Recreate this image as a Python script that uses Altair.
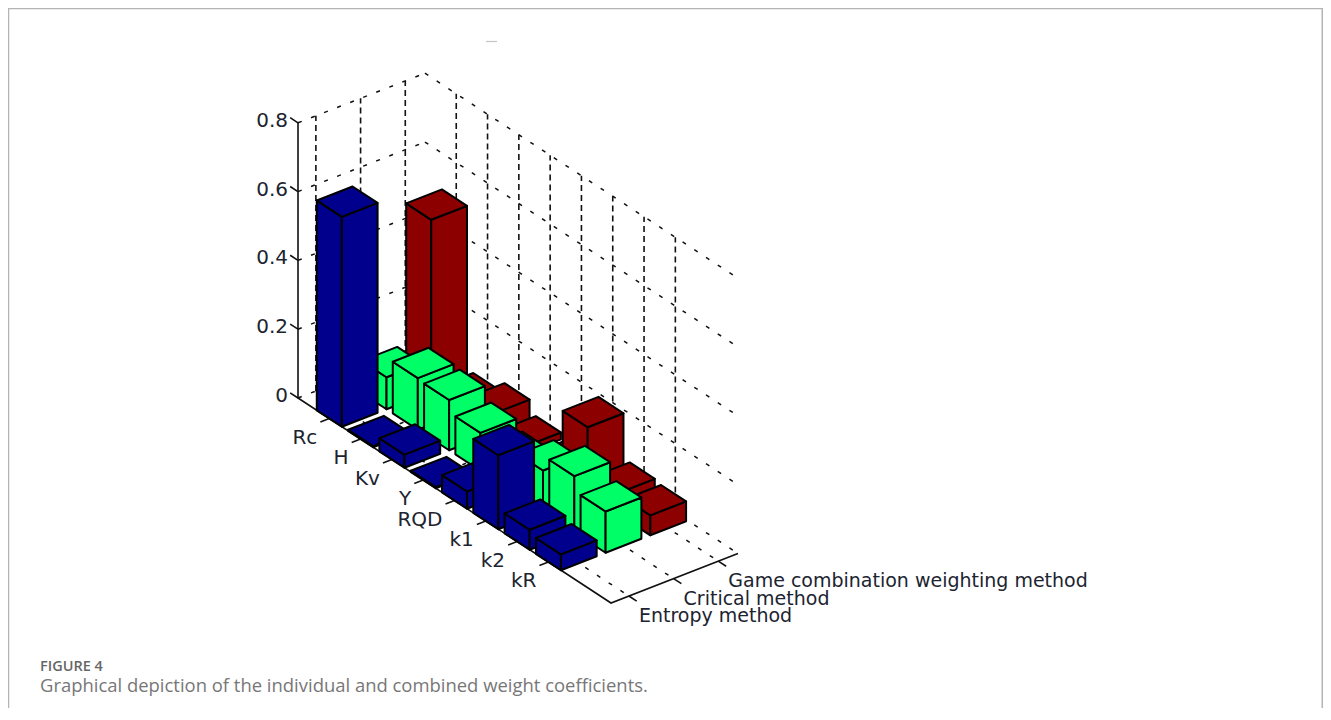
import altair as alt
import pandas as pd

categories = ["Rc", "H", "Kv", "Y", "RQD", "k1", "k2", "kR"]
methods = ["Entropy method", "Critical method", "Game combination weighting method"]
entropy = [0.61, 0.003, 0.038, 0.003, 0.05, 0.215, 0.058, 0.046]
critical = [0.093, 0.15, 0.146, 0.11, 0.085, 0.12, 0.163, 0.12]
game = [0.50, 0.026, 0.056, 0.02, 0.01, 0.195, 0.064, 0.058]
z_ticks = [0, 0.2, 0.4, 0.6, 0.8]
z_labels = ["0", "0.2", "0.4", "0.6", "0.8"]
series = [entropy, critical, game]
colors = ["#00008c", "#00ff66", "#8c0000"]

W, H = 1315, 700
XMIN, XMAX, YMIN, YMAX, ZMAX = 0.0, 10.0, 0.6, 3.44, 0.8
BAR = 0.4


def P(x, y, z=0.0):
    """Oblique 3D view -> pixel position inside the svg."""
    return [
        298 + (x - XMIN) * 31.3 + (y - YMIN) * 44.7 - 8,
        398 + (x - XMIN) * 20.5 - (y - YMIN) * 17.45 - z * 344 - 8,
    ]


def poly(points, color):
    return {
        "type": "Feature",
        "properties": {"color": color},
        "geometry": {"type": "Polygon", "coordinates": [points + [points[0]]]},
    }


def line(*points):
    return {
        "type": "Feature",
        "properties": {},
        "geometry": {"type": "LineString", "coordinates": list(points)},
    }


# bars, back to front
faces = []
for yi in (3, 2, 1):
    vals = series[yi - 1]
    col = colors[yi - 1]
    for xi, h in enumerate(vals, start=1):
        x0, x1 = xi - BAR, xi + BAR
        y0, y1 = yi - BAR, yi + BAR
        faces.append(poly([P(x0, y0), P(x1, y0), P(x1, y0, h), P(x0, y0, h)], col))
        faces.append(poly([P(x1, y0), P(x1, y1), P(x1, y1, h), P(x1, y0, h)], col))
        faces.append(poly([P(x0, y0, h), P(x1, y0, h), P(x1, y1, h), P(x0, y1, h)], col))

# grid
sloped = []
for z in z_ticks:
    sloped.append(line(P(XMIN, YMIN, z), P(XMIN, YMAX, z)))
    sloped.append(line(P(XMIN, YMAX, z), P(XMAX, YMAX, z)))
for i in range(1, len(categories) + 1):
    sloped.append(line(P(i, YMIN), P(i, YMAX)))
for j in range(1, len(methods) + 1):
    sloped.append(line(P(XMIN, j), P(XMAX, j)))
vertical = []
for j in range(1, len(methods) + 1):
    vertical.append(line(P(XMIN, j), P(XMIN, j, ZMAX)))
for i in range(1, len(categories) + 1):
    vertical.append(line(P(i, YMAX), P(i, YMAX, ZMAX)))

# axes and ticks
axes = [
    line(P(XMIN, YMIN, ZMAX), P(XMIN, YMIN), P(XMAX, YMIN), P(XMAX, YMAX)),
]
for z in z_ticks:
    axes.append(line(P(XMIN, YMIN, z), P(XMIN - 0.25, YMIN, z)))
for i in range(1, len(categories) + 1):
    axes.append(line(P(i, YMIN), P(i, YMIN - 0.2)))
for j in range(1, len(methods) + 1):
    axes.append(line(P(XMAX, j), P(XMAX + 0.25, j)))

# page furniture
page_bg = [poly([[0, 0], [W, 0], [W, H], [0, H]], "#ffffff")]
frame = [line([0.5, H], [0.5, 0.5], [W - 0.75, 0.5], [W - 0.75, H])]
speck = [line([478, 33.5], [489, 33.5])]

PROJ = dict(type="identity", scale=1, translate=[0, 0])


def shapes(features, **kw):
    return alt.Chart(alt.Data(values=features)).mark_geoshape(**kw).project(**PROJ)


def rows(items):
    return pd.DataFrame(items, columns=["text", "lon", "lat"])


def labels(df, **kw):
    return alt.Chart(df).mark_text(**kw).encode(
        longitude="lon:Q", latitude="lat:Q", text="text:N"
    ).project(**PROJ)


FONT = "DejaVu Sans"
z_df = rows([(t, *P(XMIN, YMIN, z)) for t, z in zip(z_labels, z_ticks)])
x_df = rows([(t, *P(i, YMIN)) for i, t in enumerate(categories, start=1)])
y_df = rows([(t, *P(XMAX, j)) for j, t in enumerate(methods, start=1)])
cap1 = rows([("FIGURE 4", 32, 659)])
cap2 = rows([("Graphical depiction of the individual and combined weight coefficients.", 32, 678)])

chart = alt.layer(
    shapes(page_bg, fill="white", strokeWidth=0),
    shapes(frame, filled=False, stroke="#b4b4b4", strokeWidth=1.5),
    shapes(speck, filled=False, stroke="#c4c4c4", strokeWidth=1.2),
    shapes(sloped, filled=False, stroke="#111111", strokeWidth=1.5, strokeDash=[4, 10]),
    shapes(vertical, filled=False, stroke="#111111", strokeWidth=1.6, strokeDash=[6, 4]),
    shapes(axes, filled=False, stroke="#111111", strokeWidth=1.6),
    shapes(faces, stroke="black", strokeWidth=2, strokeJoin="round").encode(
        color=alt.Color("properties.color:N", scale=None)
    ),
    labels(z_df, font=FONT, fontSize=20, color="#1c2430", align="right", dx=-10, dy=-2),
    labels(x_df, font=FONT, fontSize=20, color="#1c2430", align="right", dx=-12, dy=19),
    labels(y_df, font=FONT, fontSize=19, color="#1c2430", align="left", dx=10, dy=20),
    labels(cap1, font="Open Sans", fontSize=14.5, fontWeight=600, color="#666666", align="left"),
    labels(cap2, font="Open Sans", fontSize=18.45, color="#777777", align="left"),
).properties(width=W, height=H, padding=0).configure_view(strokeWidth=0).configure(background="white")

chart.save("out.html", embed_options={"renderer": "svg", "actions": False})
